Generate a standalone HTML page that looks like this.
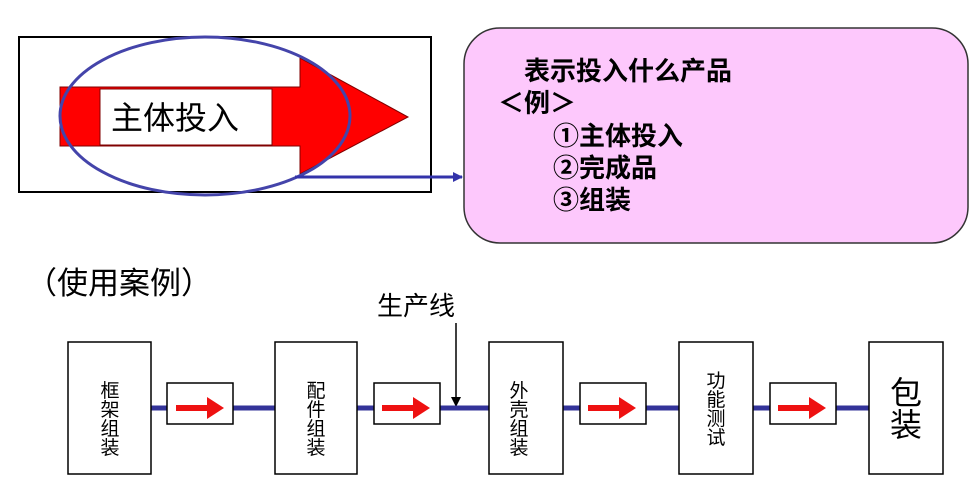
<!DOCTYPE html>
<html><head><meta charset="utf-8"><style>
body{margin:0;background:#fff;}
svg{display:block;font-family:"Liberation Sans","Noto Sans CJK SC",sans-serif;}
</style></head><body>
<svg width="978" height="493" viewBox="0 0 978 493" xmlns="http://www.w3.org/2000/svg">
<defs>
<marker id="ah" markerWidth="10" markerHeight="10" refX="9" refY="5" orient="auto" markerUnits="userSpaceOnUse"><path d="M0,0 L10,5 L0,10 z" fill="#3333aa"/></marker>
<marker id="ak" markerWidth="10" markerHeight="10" refX="9" refY="5" orient="auto" markerUnits="userSpaceOnUse"><path d="M0,0 L10,5 L0,10 z" fill="#000"/></marker>
</defs>
<rect x="19" y="37" width="412" height="155" fill="#fff" stroke="#000" stroke-width="2"/>
<path d="M60,87 L300,87 L300,58 L408,117 L300,174 L300,146 L60,146 Z" fill="#ff0000" stroke="#800000" stroke-width="1"/>
<rect x="100" y="89" width="172" height="56" fill="#fff" stroke="#800000" stroke-width="1"/>
<text x="111" y="129" font-size="32" fill="#000">主体投入</text>
<ellipse cx="205" cy="116" rx="145" ry="79" fill="none" stroke="#4444aa" stroke-width="3"/>
<line x1="295" y1="177" x2="462" y2="177" stroke="#3333aa" stroke-width="3" marker-end="url(#ah)"/>
<rect x="464" y="28" width="504" height="215" rx="36" fill="#fdc8fc" stroke="#333" stroke-width="1.5"/>
<g font-size="26" font-weight="bold" fill="#000">
<text x="524" y="80">表示投入什么产品</text>
<text x="498" y="112">＜例＞</text>
<text x="553" y="145">①主体投入</text>
<text x="553" y="177">②完成品</text>
<text x="553" y="209">③组装</text>
</g>
<text x="26" y="294" font-size="31" fill="#000">（使用案例）</text>
<text x="377" y="315" font-size="26" fill="#000">生产线</text>
<line x1="456" y1="323" x2="456" y2="406" stroke="#000" stroke-width="1.5" marker-end="url(#ak)"/>
<line x1="151" y1="408" x2="869" y2="408" stroke="#333399" stroke-width="5"/>
<g fill="#fff" stroke="#000" stroke-width="1.5">
<rect x="68" y="342" width="83" height="132"/>
<rect x="275" y="342" width="82" height="132"/>
<rect x="489" y="342" width="74" height="132"/>
<rect x="679" y="342" width="74" height="132"/>
<rect x="869" y="342" width="74" height="132"/>
<rect x="167" y="383" width="66" height="41"/>
<rect x="374" y="383" width="66" height="41"/>
<rect x="580" y="383" width="66" height="41"/>
<rect x="770" y="383" width="66" height="41"/>
</g>
<g fill="#ee1111">
<path d="M176,405 h31 v-8 l17,11 l-17,11 v-8 h-31z"/>
<path d="M382,405 h31 v-8 l17,11 l-17,11 v-8 h-31z"/>
<path d="M588,405 h31 v-8 l17,11 l-17,11 v-8 h-31z"/>
<path d="M778,405 h31 v-8 l17,11 l-17,11 v-8 h-31z"/>
</g>
<g font-size="19" fill="#000" text-anchor="middle">
<text x="110" y="397">框</text><text x="110" y="416">架</text><text x="110" y="435">组</text><text x="110" y="454">装</text>
<text x="316" y="397">配</text><text x="316" y="416">件</text><text x="316" y="435">组</text><text x="316" y="454">装</text>
<text x="519" y="397">外</text><text x="519" y="416">壳</text><text x="519" y="435">组</text><text x="519" y="454">装</text>
<text x="716" y="387">功</text><text x="716" y="406">能</text><text x="716" y="425">测</text><text x="716" y="444">试</text>
</g>
<g font-size="32" fill="#000" text-anchor="middle">
<text x="906" y="404">包</text><text x="906" y="436">装</text>
</g>
</svg>
</body></html>
